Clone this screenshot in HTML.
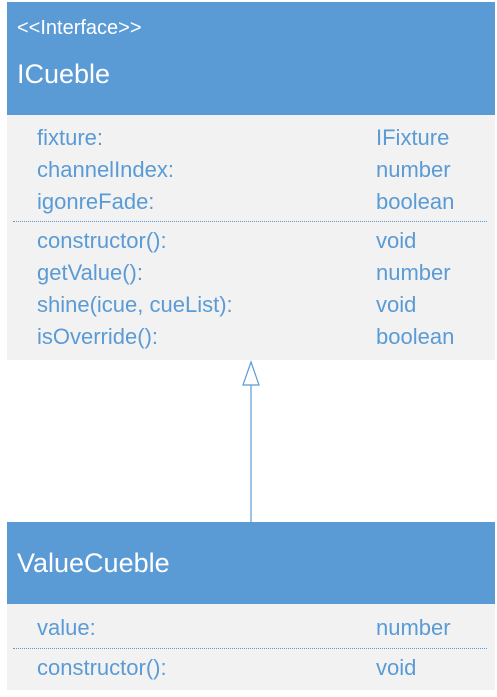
<!DOCTYPE html>
<html><head><style>
body{margin:0;width:497px;height:697px;background:#fff;position:relative;font-family:"Liberation Sans",sans-serif;overflow:hidden}
.a{position:absolute}
.h{background:#5b9bd5}
.b{background:#f2f2f2}
.t{position:absolute;color:#5b9bd5;font-size:22px;line-height:24px;white-space:nowrap}
.w{position:absolute;color:#fff;white-space:nowrap}
.d{position:absolute;left:13px;width:474px;border-top:1px dotted #5b9bd5}
</style></head><body>
<div class="a h" style="left:7px;top:2px;width:488px;height:113px"></div>
<div class="a b" style="left:7px;top:115px;width:488px;height:245px"></div>
<div class="w" style="left:17px;top:16px;font-size:20px;line-height:24px">&lt;&lt;Interface&gt;&gt;</div>
<div class="w" style="left:17px;top:58px;font-size:27px;line-height:32px">ICueble</div>
<div class="t" style="left:37px;top:126px">fixture:</div><div class="t" style="left:376px;top:126px">IFixture</div>
<div class="t" style="left:37px;top:158px">channelIndex:</div><div class="t" style="left:376px;top:158px">number</div>
<div class="t" style="left:37px;top:190px">igonreFade:</div><div class="t" style="left:376px;top:190px">boolean</div>
<div class="d" style="top:221px"></div>
<div class="t" style="left:37px;top:229px">constructor():</div><div class="t" style="left:376px;top:229px">void</div>
<div class="t" style="left:37px;top:261px">getValue():</div><div class="t" style="left:376px;top:261px">number</div>
<div class="t" style="left:37px;top:293px">shine(icue, cueList):</div><div class="t" style="left:376px;top:293px">void</div>
<div class="t" style="left:37px;top:325px">isOverride():</div><div class="t" style="left:376px;top:325px">boolean</div>
<svg class="a" style="left:0;top:0" width="497" height="697">
<line x1="251" y1="385" x2="251" y2="522" stroke="#5b9bd5" stroke-width="1.2"/>
<polygon points="251,362 243,385 259,385" fill="#fff" stroke="#5b9bd5" stroke-width="1.2"/>
</svg>
<div class="a h" style="left:7px;top:522px;width:488px;height:82px"></div>
<div class="a b" style="left:7px;top:604px;width:488px;height:86px"></div>
<div class="w" style="left:17px;top:547px;font-size:27px;line-height:32px">ValueCueble</div>
<div class="t" style="left:37px;top:616px">value:</div><div class="t" style="left:376px;top:616px">number</div>
<div class="d" style="top:648px"></div>
<div class="t" style="left:37px;top:656px">constructor():</div><div class="t" style="left:376px;top:656px">void</div>
</body></html>
